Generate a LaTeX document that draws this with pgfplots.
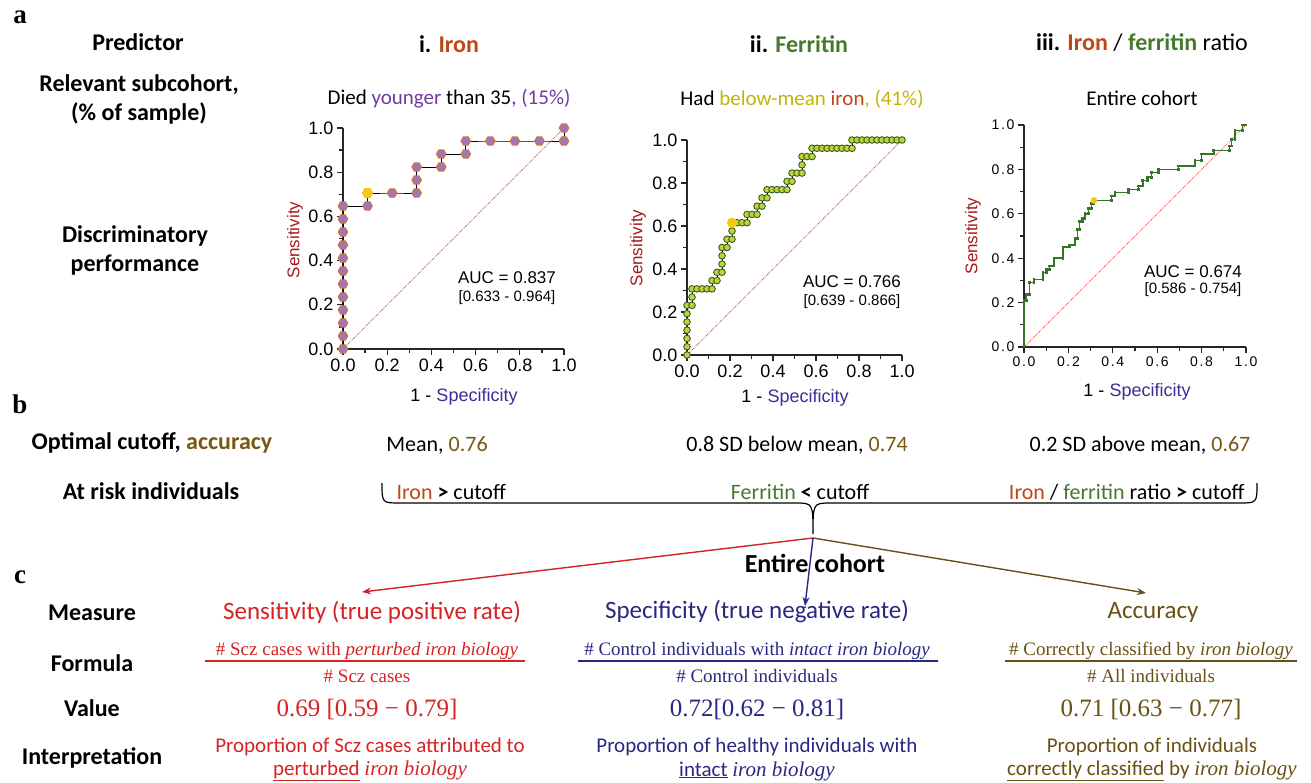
\documentclass[border=0pt]{standalone}
\usepackage{fontspec}
\setmainfont{Carlito}
\newfontfamily\arialf{Liberation Sans}
\newfontfamily\serf{Liberation Serif}
\usepackage{pgfplots}
\pgfplotsset{compat=1.18}
\usetikzlibrary{arrows.meta}

\definecolor{ironc}{RGB}{190,70,25}
\definecolor{ferrc}{RGB}{70,120,45}
\definecolor{purp}{RGB}{112,60,160}
\definecolor{yel}{RGB}{195,180,10}
\definecolor{accb}{RGB}{120,88,20}
\definecolor{sensr}{RGB}{212,35,35}
\definecolor{specn}{RGB}{40,40,130}
\definecolor{accol}{RGB}{105,80,20}
\definecolor{ylab}{RGB}{165,25,25}
\definecolor{xlab}{RGB}{60,45,150}
\definecolor{hexfill}{RGB}{155,120,190}
\definecolor{hexedge}{RGB}{220,115,45}
\definecolor{gold}{RGB}{245,200,20}
\definecolor{cfill}{RGB}{195,210,60}
\definecolor{cedge}{RGB}{50,95,30}
\definecolor{ratioc}{RGB}{55,115,40}
\definecolor{diagr}{RGB}{235,60,50}

\newcommand{\fs}[1]{\fontsize{#1}{#1}\selectfont}

\pgfdeclareplotmark{hexagon}{%
  \pgfpathmoveto{\pgfpointpolar{0}{\pgfplotmarksize}}%
  \pgfpathlineto{\pgfpointpolar{60}{\pgfplotmarksize}}%
  \pgfpathlineto{\pgfpointpolar{120}{\pgfplotmarksize}}%
  \pgfpathlineto{\pgfpointpolar{180}{\pgfplotmarksize}}%
  \pgfpathlineto{\pgfpointpolar{240}{\pgfplotmarksize}}%
  \pgfpathlineto{\pgfpointpolar{300}{\pgfplotmarksize}}%
  \pgfpathclose
  \pgfusepathqfillstroke}

\pgfplotsset{
  roc/.style={scale only axis, xmin=0, xmax=1, ymin=0, ymax=1,
    axis lines=left, axis line style={-, line width=1.3pt, black!85},
    xtick={0,0.2,0.4,0.6,0.8,1}, ytick={0,0.2,0.4,0.6,0.8,1},
    minor x tick num=1, minor y tick num=1,
    tick align=outside, major tick length=6pt, minor tick length=4pt,
    tick style={line width=1.3pt, black!85},
    xticklabel style={/pgf/number format/fixed, /pgf/number format/fixed zerofill, /pgf/number format/precision=1, /pgf/number format/assume math mode=true},
    yticklabel style={/pgf/number format/fixed, /pgf/number format/fixed zerofill, /pgf/number format/precision=1, /pgf/number format/assume math mode=true},
    clip=false},
  diag/.style={diagr, line width=0.8pt, densely dotted}
}

\begin{document}
\begin{tikzpicture}
\path[use as bounding box] (0pt,0pt) rectangle (1311pt,-783pt);

% ---------- i. Iron ----------
\begin{axis}[roc, width=221pt, height=221pt, at={(343pt,-349pt)}, anchor=south west,
  ticklabel style={font=\arialf\fs{18}}]
\addplot[diag] coordinates {(0,0) (1,1)};
\addplot[black, line width=0.8pt, mark=hexagon, mark size=4.8pt,
  mark options={fill=hexfill, draw=hexedge, line width=1pt, solid}] coordinates {
 (0,0) (0,0.0588) (0,0.1176) (0,0.1765) (0,0.2353) (0,0.2941) (0,0.3529)
 (0,0.4118) (0,0.4706) (0,0.5294) (0,0.5882) (0,0.6471) (0.1111,0.6471)
 (0.1111,0.7059) (0.2222,0.7059) (0.3333,0.7059) (0.3333,0.7647) (0.3333,0.8235)
 (0.4444,0.8235) (0.4444,0.8824) (0.5556,0.8824) (0.5556,0.9412) (0.6667,0.9412)
 (0.7778,0.9412) (0.8889,0.9412) (1,0.9412) (1,1)};
\addplot[only marks, mark=hexagon, mark size=5.3pt, mark options={fill=gold, draw=gold}]
  coordinates {(0.1111,0.7059)};
\end{axis}

% ---------- ii. Ferritin ----------
\begin{axis}[roc, width=215pt, height=215pt, at={(687pt,-355pt)}, anchor=south west,
  ticklabel style={font=\arialf\fs{18}}]
\addplot[diag] coordinates {(0,0) (1,1)};
\addplot[black, line width=0.8pt, mark=*, mark size=3.3pt,
  mark options={fill=cfill, draw=cedge, line width=0.9pt, solid}] coordinates {
 (0,0) (0,0.0385) (0,0.0769) (0,0.1154) (0,0.1538) (0,0.1923) (0,0.2308)
 (0.0233,0.2308) (0.0233,0.2692) (0.0233,0.3077)
 (0.0465,0.3077) (0.0698,0.3077) (0.0930,0.3077) (0.1163,0.3077)
 (0.1163,0.3462) (0.1395,0.3462) (0.1395,0.3846) (0.1628,0.3846) (0.1628,0.4231)
 (0.1628,0.4615) (0.1628,0.5) (0.1860,0.5) (0.1860,0.5385) (0.2093,0.5385)
 (0.2093,0.5769) (0.2093,0.6154) (0.2326,0.6154) (0.2558,0.6154) (0.2791,0.6154)
 (0.2791,0.6538) (0.3023,0.6538) (0.3256,0.6538) (0.3256,0.6923) (0.3488,0.6923)
 (0.3488,0.7308) (0.3721,0.7308) (0.3721,0.7692) (0.3953,0.7692) (0.4186,0.7692)
 (0.4419,0.7692) (0.4651,0.7692) (0.4651,0.8077) (0.4884,0.8077) (0.4884,0.8462)
 (0.5116,0.8462) (0.5349,0.8462) (0.5349,0.8846) (0.5349,0.9231) (0.5581,0.9231)
 (0.5814,0.9231) (0.5814,0.9615) (0.6047,0.9615) (0.6279,0.9615) (0.6512,0.9615)
 (0.6744,0.9615) (0.6977,0.9615) (0.7209,0.9615) (0.7442,0.9615) (0.7674,0.9615)
 (0.7674,1) (0.7907,1) (0.8140,1) (0.8372,1) (0.8605,1) (0.8837,1) (0.9070,1)
 (0.9302,1) (0.9535,1) (0.9767,1) (1,1)};
\addplot[only marks, mark=*, mark size=4.8pt, mark options={fill=gold, draw=gold}]
  coordinates {(0.2093,0.6154)};
\end{axis}

% ---------- iii. Iron / ferritin ratio ----------
\begin{axis}[roc, width=222pt, height=222pt, at={(1024pt,-347pt)}, anchor=south west,
  ticklabel style={font=\arialf\addfontfeature{LetterSpace=12}\fs{14}}]
\addplot[diag] coordinates {(0,0) (1,1)};
\addplot[ratioc, line width=1.5pt, mark=square*, mark size=0.6pt,
  mark options={ratioc}] coordinates {
 (0,0) (0,0.21) (0.01,0.21) (0.01,0.235) (0.024,0.235) (0.024,0.29) (0.045,0.29)
 (0.045,0.305) (0.085,0.305) (0.085,0.335) (0.1,0.335) (0.1,0.35) (0.115,0.35)
 (0.115,0.365) (0.135,0.365) (0.135,0.40) (0.175,0.40) (0.175,0.45) (0.205,0.45)
 (0.205,0.46) (0.23,0.46) (0.23,0.49) (0.24,0.49) (0.24,0.53) (0.25,0.53)
 (0.25,0.565) (0.265,0.565) (0.265,0.58) (0.275,0.58) (0.275,0.60) (0.29,0.60)
 (0.29,0.625) (0.305,0.625) (0.305,0.645) (0.315,0.645) (0.315,0.66) (0.395,0.66)
 (0.395,0.68) (0.41,0.68) (0.41,0.695) (0.47,0.695) (0.47,0.71) (0.515,0.71)
 (0.515,0.725) (0.535,0.725) (0.535,0.75) (0.555,0.75) (0.555,0.765) (0.575,0.765)
 (0.575,0.785) (0.605,0.785) (0.605,0.80) (0.695,0.80) (0.695,0.815) (0.77,0.815)
 (0.77,0.84) (0.8,0.84) (0.8,0.87) (0.855,0.87) (0.855,0.885) (0.925,0.885)
 (0.925,0.905) (0.935,0.905) (0.935,0.935) (0.95,0.935) (0.95,0.975) (0.985,0.975)
 (0.985,1) (1,1)};
\addplot[only marks, mark=*, mark size=3pt, mark options={fill=gold, draw=gold}]
  coordinates {(0.315,0.66)};
\end{axis}

\begin{scope}[x=1pt, y=-1pt]
% panel letters
\node[font=\serf\bfseries\fs{27}] at (20,17) {a};
\node[font=\serf\bfseries\fs{27}] at (20,404) {b};
\node[font=\serf\bfseries\fs{27}] at (20,577) {c};

% row a
\node[font=\bfseries\fs{24}] at (138,42) {Predictor};
\node[font=\bfseries\fs{24}] at (449,44) {i. \textcolor{ironc}{Iron}};
\node[font=\bfseries\fs{24}] at (799,44) {ii. \textcolor{ferrc}{Ferritin}};
\node[font=\fs{24}] at (1142,43) {\textbf{iii. \textcolor{ironc}{Iron}} / \textbf{\textcolor{ferrc}{ferritin}} ratio};
\node[font=\bfseries\fs{24}] at (139,85) {Relevant subcohort,};
\node[font=\bfseries\fs{24}] at (139,113) {(\% of sample)};
\node[font=\bfseries\fs{24}] at (135,236) {Discriminatory};
\node[font=\bfseries\fs{24}] at (135,265) {performance};

\node[font=\fs{21}] at (449,99) {Died \textcolor{purp}{younger} than 35\textcolor{purp}{, (15\%)}};
\node[font=\fs{21}] at (802,99) {Had \textcolor{yel}{below-mean} \textcolor{ironc}{iron}\textcolor{yel}{, (41\%)}};
\node[font=\fs{21}] at (1142,98) {Entire cohort};

% axis labels
\node[font=\arialf\fs{18}] at (464,397) {1 - \textcolor{xlab}{Specificity}};
\node[font=\arialf\fs{17}, rotate=90, text=ylab] at (295,240) {Sensitivity};
\node[font=\arialf\fs{18}] at (795,398) {1 - \textcolor{xlab}{Specificity}};
\node[font=\arialf\fs{17}, rotate=90, text=ylab] at (638,248) {Sensitivity};
\node[font=\arialf\fs{18}] at (1137,392) {1 - \textcolor{xlab}{Specificity}};
\node[font=\arialf\fs{17}, rotate=90, text=ylab] at (973,236) {Sensitivity};

% AUC
\node[font=\arialf\fs{17}] at (507,278) {AUC = 0.837};
\node[font=\arialf\fs{15}] at (507,298) {[0.633 - 0.964]};
\node[font=\arialf\fs{17}] at (852,282) {AUC = 0.766};
\node[font=\arialf\fs{15}] at (852,302) {[0.639 - 0.866]};
\node[font=\arialf\fs{17}] at (1193,272) {AUC = 0.674};
\node[font=\arialf\fs{15}] at (1193,290) {[0.586 - 0.754]};

% row b
\node[font=\bfseries\fs{24}] at (152,443) {Optimal cutoff, \textcolor{accb}{accuracy}};
\node[font=\fs{22}] at (437,445) {Mean, \textcolor{accb}{0.76}};
\node[font=\fs{22}] at (797,445) {0.8 SD below mean, \textcolor{accb}{0.74}};
\node[font=\fs{22}] at (1140,445) {0.2 SD above mean, \textcolor{accb}{0.67}};
\node[font=\bfseries\fs{24}] at (151,491) {At risk individuals};
\node[font=\fs{22}, anchor=west] at (393,492) {\textcolor{ironc}{Iron} \textbf{>} cutoff};
\node[font=\fs{22}] at (800,492) {\textcolor{ferrc}{Ferritin} \textbf{<} cutoff};
\node[font=\fs{22}, anchor=east] at (1248,492) {\textcolor{ironc}{Iron} / \textcolor{ferrc}{ferritin} ratio \textbf{>} cutoff};

% brace
\draw[line width=1.2pt] (382,483) .. controls (382,503) .. (400,503) -- (795,503)
  .. controls (813,503) .. (813,534) .. controls (813,503) .. (831,503) -- (1239,503)
  .. controls (1257,503) .. (1257,483);

% arrows
\draw[sensr, line width=1.4pt, -{Stealth[length=9pt,width=7pt]}] (813,538) -- (362,592);
\draw[specn, line width=1.4pt, -{Stealth[length=9pt,width=7pt]}] (813,538) -- (805,606);
\draw[accol, line width=1.4pt, -{Stealth[length=9pt,width=7pt]}] (813,538) -- (1146,593);
\node[font=\bfseries\fs{26}] at (815,563) {Entire cohort};

% row c labels
\node[font=\bfseries\fs{24}] at (92,613) {Measure};
\node[font=\bfseries\fs{24}] at (92,663) {Formula};
\node[font=\bfseries\fs{24}] at (92,708) {Value};
\node[font=\bfseries\fs{24}] at (92,758) {Interpretation};

% sensitivity column
\node[font=\fs{25}, text=sensr] at (372,612) {Sensitivity (true positive rate)};
\node[font=\serf\fs{19}, text=sensr] at (367,651) {\# Scz cases with \textit{perturbed iron biology}};
\draw[sensr, line width=1.2pt] (205,661) -- (525,661);
\node[font=\serf\fs{19}, text=sensr] at (367,676) {\# Scz cases};
\node[font=\serf\fs{25}, text=sensr] at (367,709) {0.69 [0.59 − 0.79]};
\node[font=\fs{21}, text=sensr] at (370,747) {Proportion of Scz cases attributed to};
\node[font=\fs{21}, text=sensr] at (370,771) {\underline{perturbed} {\serf\itshape iron biology}};

% specificity column
\node[font=\fs{25}, text=specn] at (757,612) {Specificity (true negative rate)};
\node[font=\serf\fs{19}, text=specn] at (757,651) {\# Control individuals with \textit{intact iron biology}};
\draw[specn, line width=1.2pt] (578,661) -- (938,661);
\node[font=\serf\fs{19}, text=specn] at (757,676) {\# Control individuals};
\node[font=\serf\fs{25}, text=specn] at (757,709) {0.72[0.62 − 0.81]};
\node[font=\fs{21}, text=specn] at (757,747) {Proportion of healthy individuals with};
\node[font=\fs{21}, text=specn] at (757,771) {\underline{intact} {\serf\itshape iron biology}};

% accuracy column
\node[font=\fs{25}, text=accol] at (1153,612) {Accuracy};
\node[font=\serf\fs{19}, text=accol] at (1151,651) {\# Correctly classified by \textit{iron biology}};
\draw[accol, line width=1.2pt] (1005,661) -- (1297,661);
\node[font=\serf\fs{19}, text=accol] at (1151,676) {\# All individuals};
\node[font=\serf\fs{25}, text=accol] at (1151,709) {0.71 [0.63 − 0.77]};
\node[font=\fs{21}, text=accol] at (1152,747) {Proportion of individuals};
\node[font=\fs{21}, text=accol] at (1152,771) {\underline{correctly classified} by {\serf\itshape iron biology}};
\end{scope}
\end{tikzpicture}
\end{document}
